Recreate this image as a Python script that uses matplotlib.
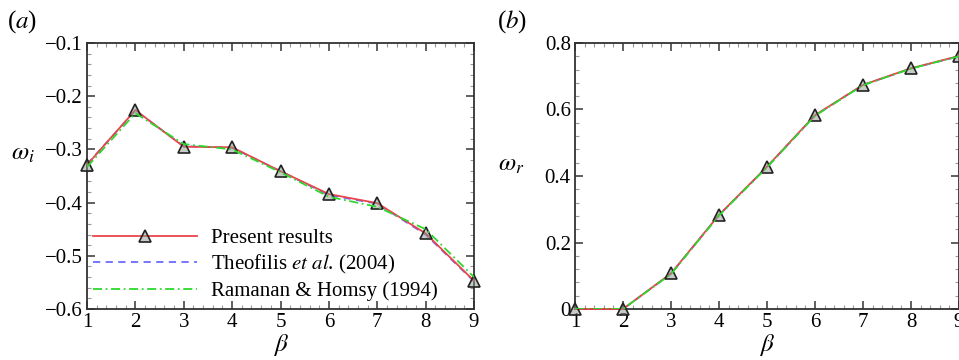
import numpy as np
import matplotlib.pyplot as plt
from matplotlib.ticker import AutoMinorLocator, MultipleLocator

plt.rcParams["font.family"] = ["Liberation Serif", "DejaVu Serif"]
plt.rcParams["mathtext.fontset"] = "stix"
plt.rcParams["font.size"] = 15

beta = [1, 2, 3, 4, 5, 6, 7, 8, 9]

# (a) imaginary part
wi_present = [-0.329, -0.226, -0.295, -0.296, -0.341, -0.384, -0.401, -0.458, -0.547]
wi_theofilis = [-0.328, -0.227, -0.294, -0.297, -0.341, -0.386, -0.402, -0.460, -0.548]
wi_ramanan = [-0.333, -0.232, -0.290, -0.300, -0.343, -0.389, -0.408, -0.450, -0.540]

# (b) real part
wr_present = [0.0, 0.0, 0.107, 0.283, 0.428, 0.583, 0.674, 0.724, 0.761]
wr_theofilis = [0.0, 0.0, 0.106, 0.282, 0.427, 0.582, 0.674, 0.723, 0.760]
wr_ramanan = [0.0, 0.0, 0.105, 0.281, 0.426, 0.581, 0.673, 0.723, 0.760]

labels = ["Present results", r"Theofilis $\mathit{et\ al}$. (2004)", "Ramanan & Homsy (1994)"]

red = "#e8454c"
blue = "#6b6bff"
green = "#2ed82e"

fig = plt.figure(figsize=(9.59, 3.6), dpi=100)
ax1 = fig.add_axes([87 / 959, 51 / 360, 387 / 959, 266 / 360])
ax2 = fig.add_axes([575 / 959, 51 / 360, 384 / 959, 266 / 360])


def draw(ax, p, t, r):
    ax.plot(beta, p, color=red, lw=1.3, marker="^", ms=9, mfc=(0.55, 0.6, 0.55, 0.5),
            mec="#222222", mew=1.2, clip_on=False, zorder=3, label=labels[0])
    ax.plot(beta, t, color=blue, lw=1.3, ls=(0, (4, 3)), zorder=2, label=labels[1])
    ax.plot(beta, r, color=green, lw=1.3, ls=(0, (5, 2, 1, 2)), zorder=4, label=labels[2])
    ax.set_xlim(1, 9)
    ax.xaxis.set_major_locator(MultipleLocator(1))
    ax.xaxis.set_minor_locator(AutoMinorLocator(5))
    ax.yaxis.set_minor_locator(AutoMinorLocator(5))
    ax.tick_params(which="both", direction="in", top=True, right=True, color="#444444")
    ax.tick_params(which="major", length=6, width=1.2, labelsize=15, pad=3)
    ax.tick_params(which="minor", length=3, width=0.8, color="#999999")
    for s in ax.spines.values():
        s.set_color("#333333")
        s.set_linewidth(1.3)
    ax.set_xlabel(r"$\beta$", fontsize=18, labelpad=0)


draw(ax1, wi_present, wi_theofilis, wi_ramanan)
ax1.set_ylim(-0.6, -0.1)
ax1.yaxis.set_major_locator(MultipleLocator(0.1))
ax1.set_ylabel(r"$\omega_i$", fontsize=18, rotation=0)
ax1.yaxis.set_label_coords(-0.165, 0.54)
ax1.legend(loc="upper left", bbox_to_anchor=(-0.018, 0.35), frameon=False, numpoints=1,
           handlelength=5.0, handletextpad=0.7, labelspacing=0.25, fontsize=15,
           borderaxespad=0.2)

draw(ax2, wr_present, wr_theofilis, wr_ramanan)
ax2.set_ylim(0, 0.8)
ax2.yaxis.set_major_locator(MultipleLocator(0.2))
ax2.yaxis.set_major_formatter(lambda v, pos: "0" if abs(v) < 1e-9 else f"{v:.1f}")
ax2.set_ylabel(r"$\omega_r$", fontsize=18, rotation=0)
ax2.yaxis.set_label_coords(-0.165, 0.5)

fig.text(7 / 959, 1 - 22 / 360, r"($\mathit{a}$)", fontsize=18, va="center")
fig.text(497 / 959, 1 - 22 / 360, r"($\mathit{b}$)", fontsize=18, va="center")

fig.savefig("out.png", dpi=100)
